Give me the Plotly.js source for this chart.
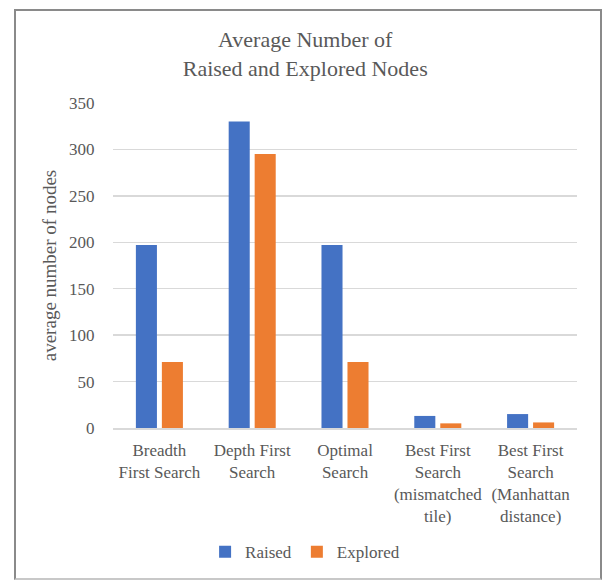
<!DOCTYPE html>
<html>
<head>
<meta charset="utf-8">
<script src="https://cdn.plot.ly/plotly-3.0.1.min.js"></script>
<style>
  html, body { margin: 0; padding: 0; background: #ffffff; }
  #wrap { position: relative; width: 602px; height: 581px; }
  #chart { width: 602px; height: 581px; }
  #frame {
    position: absolute; left: 14px; top: 9px; width: 584px; height: 567px;
    border: 2px solid #8a8a8a; border-bottom-color: #c8c8c8; pointer-events: none;
  }
</style>
</head>
<body>
<div id="wrap">
  <div id="chart"></div>
  <div id="frame"></div>
</div>
<script>
// Search strategies compared on the 8-puzzle
const categories = [
  'Breadth First Search',
  'Depth First Search',
  'Optimal Search',
  'Best First Search (mismatched tile)',
  'Best First Search (Manhattan distance)'
];
// Wrapped labels shown under each group
const tickLabels = [
  'Breadth<br>First Search',
  'Depth First<br>Search',
  'Optimal<br>Search',
  'Best First<br>Search<br>(mismatched<br>tile)',
  'Best First<br>Search<br>(Manhattan<br>distance)'
];
const raised = [197, 330, 197, 13, 15];
const explored = [71, 295, 71, 5, 6];
const yTicks = [0, 50, 100, 150, 200, 250, 300, 350];

const textColor = '#595959';
const font = 'Liberation Serif';

const traces = [
  {
    type: 'bar', name: 'Raised', x: categories, y: raised,
    marker: { color: '#4472C4', line: { width: 0 } }, hoverinfo: 'y'
  },
  {
    type: 'bar', name: 'Explored', x: categories, y: explored,
    marker: { color: '#ED7D31', line: { width: 0 } }, hoverinfo: 'y'
  }
];

const layout = {
  width: 602, height: 581,
  margin: { l: 113, r: 25, t: 103, b: 153, autoexpand: false },
  paper_bgcolor: '#ffffff', plot_bgcolor: '#ffffff',
  font: { family: font, color: textColor, size: 17 },
  barmode: 'group', bargap: 0.44, bargroupgap: 0.19,
  title: {
    text: 'Average Number of<br>Raised and Explored Nodes',
    font: { family: font, size: 22, color: textColor },
    x: 0.507, xref: 'container', xanchor: 'center',
    y: 0.919, yref: 'container', yanchor: 'middle'
  },
  xaxis: {
    type: 'category',
    tickmode: 'array', tickvals: categories, ticktext: tickLabels,
    showgrid: false, zeroline: false,
    showline: true, linecolor: '#D9D9D9', linewidth: 1.5,
    ticks: 'outside', ticklen: 6, tickcolor: 'rgba(0,0,0,0)',
    tickfont: { family: font, size: 17, color: textColor }
  },
  yaxis: {
    range: [0, 350], tickmode: 'array', tickvals: yTicks,
    showgrid: true, gridcolor: '#D9D9D9', gridwidth: 1.5,
    zeroline: false, showline: false,
    ticks: 'outside', ticklen: 14, tickcolor: 'rgba(0,0,0,0)',
    tickfont: { family: font, size: 17, color: textColor },
    title: {
      text: 'average number of nodes',
      font: { family: font, size: 19, color: textColor },
      standoff: 7
    }
  },
  showlegend: true,
  legend: {
    orientation: 'h', x: 0.414, xanchor: 'center', y: -0.382, yanchor: 'middle',
    font: { family: font, size: 17, color: textColor },
    itemwidth: 30, bgcolor: 'rgba(0,0,0,0)'
  }
};

Plotly.newPlot('chart', traces, layout, { displayModeBar: false, staticPlot: true });
</script>
</body>
</html>
